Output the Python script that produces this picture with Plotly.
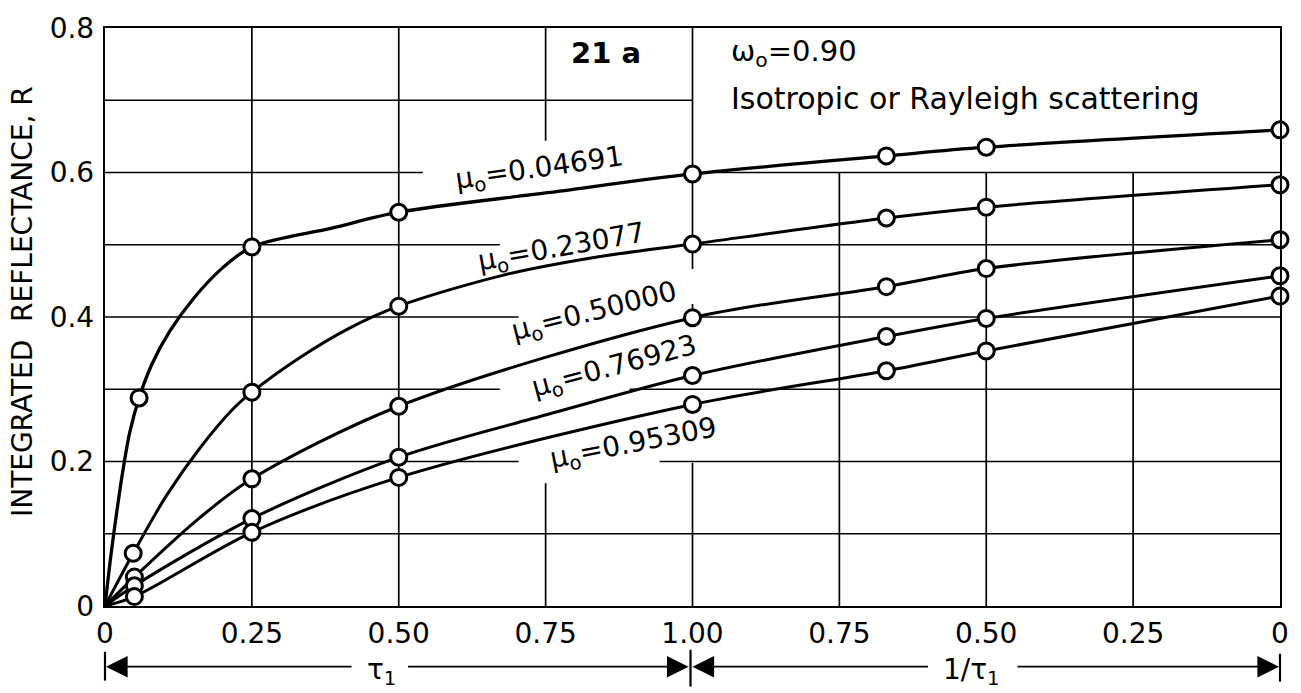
import plotly.graph_objects as go

# ---------------- data ----------------
# Abscissa: left half is tau_1 (0 -> 1), right half is 1/tau_1 (1 -> 0).
mu_labels = ["0.04691", "0.23077", "0.50000", "0.76923", "0.95309"]

# circle markers: left-half tau_1 positions, right-half 1/tau_1 positions
marker_tau = [
    [0.058, 0.25, 0.50, 1.00],
    [0.048, 0.25, 0.50, 1.00],
    [0.050, 0.25, 0.50, 1.00],
    [0.050, 0.25, 0.50, 1.00],
    [0.050, 0.25, 0.50, 1.00],
]
marker_inv_tau = [0.67, 0.50, 0.00]

R_mu_04691 = [0.288, 0.497, 0.545, 0.598, 0.623, 0.635, 0.659]
R_mu_23077 = [0.073, 0.296, 0.415, 0.501, 0.537, 0.552, 0.583]
R_mu_50000 = [0.040, 0.176, 0.2765, 0.399, 0.442, 0.467, 0.507]
R_mu_76923 = [0.028, 0.121, 0.206, 0.319, 0.373, 0.398, 0.457]
R_mu_95309 = [0.013, 0.102, 0.178, 0.279, 0.3256, 0.353, 0.429]
R_markers = [R_mu_04691, R_mu_23077, R_mu_50000, R_mu_76923, R_mu_95309]

# drawn curve on the tau_1 side
curve_tau = [
    [0, 0.01, 0.02, 0.03, 0.042, 0.058, 0.08, 0.11, 0.15, 0.20, 0.25, 0.386, 0.5, 0.753, 1.0],
    [0, 0.048, 0.104, 0.161, 0.217, 0.25, 0.33, 0.4145, 0.5, 0.6785, 0.8376, 1.0],
    [0, 0.05, 0.161, 0.25, 0.5, 1.0],
    [0, 0.05, 0.25, 0.5, 0.753, 1.0],
    [0, 0.05, 0.25, 0.5, 1.0],
]
curve_R = [
    [0, 0.07, 0.13, 0.185, 0.24, 0.288, 0.335, 0.38, 0.425, 0.468, 0.497, 0.523, 0.545, 0.572, 0.598],
    [0, 0.073, 0.152, 0.218, 0.272, 0.296, 0.343, 0.384, 0.415, 0.458, 0.483, 0.501],
    [0, 0.040, 0.122, 0.176, 0.2765, 0.399],
    [0, 0.028, 0.121, 0.206, 0.265, 0.319],
    [0, 0.013, 0.102, 0.178, 0.279],
]

x_tickvals = [0, 0.25, 0.5, 0.75, 1.0, 1.25, 1.5, 1.75, 2.0]
x_ticktext = ["0", "0.25", "0.50", "0.75", "1.00", "0.75", "0.50", "0.25", "0"]
y_tickvals = [0, 0.2, 0.4, 0.6, 0.8]
y_ticktext = ["0", "0.2", "0.4", "0.6", "0.8"]

# label placement (plot coords) and tilt
label_pos = [(0.739, 0.604, -8), (0.777, 0.4955, -10), (0.834, 0.406, -14),
             (0.868, 0.330, -15), (0.900, 0.224, -11)]

FONT = "DejaVu Sans"


def u_left(t):
    return t


def u_right(inv):
    return 2.0 - inv


fig = go.Figure()

for i in range(5):
    xs = [u_left(t) for t in curve_tau[i]] + [u_right(v) for v in marker_inv_tau]
    ys = list(curve_R[i]) + list(R_markers[i][4:])
    fig.add_trace(go.Scatter(
        x=xs, y=ys, mode="lines",
        line=dict(color="black", width=3.3 if i == 0 else 3.0, shape="spline", smoothing=0.9),
        cliponaxis=False, showlegend=False, hoverinfo="skip"))

for i in range(5):
    xs = [u_left(t) for t in marker_tau[i]] + [u_right(v) for v in marker_inv_tau]
    fig.add_trace(go.Scatter(
        x=xs, y=R_markers[i], mode="markers",
        marker=dict(symbol="circle", size=16, color="white",
                    line=dict(color="black", width=3)),
        cliponaxis=False, showlegend=False, hoverinfo="skip"))

# ---------------- grid (partial lines like the original) ----------------
shapes = []
h_segments = [
    (0.1, [(0, 2)]),
    (0.2, [(0, 0.704), (0.944, 2)]),
    (0.3, [(0, 0.672), (0.893, 2)]),
    (0.4, [(0, 0.704), (1.0, 2)]),
    (0.5, [(0, 0.672), (1.0, 2)]),
    (0.6, [(0, 0.541), (1.0, 2)]),
    (0.7, [(0, 1.0)]),
]
v_segments = [
    (0.25, [(0, 0.8)]),
    (0.5, [(0, 0.8)]),
    (0.75, [(0, 0.170), (0.644, 0.8)]),
    (1.0, [(0, 0.198), (0.40, 0.418), (0.4665, 0.8)]),
    (1.25, [(0, 0.6)]),
    (1.5, [(0, 0.6)]),
    (1.75, [(0, 0.6)]),
]
for yv, segs in h_segments:
    for a, b in segs:
        shapes.append(dict(type="line", xref="x", yref="y", x0=a, x1=b, y0=yv, y1=yv,
                           line=dict(color="black", width=1.7), layer="below"))
for xv, segs in v_segments:
    for a, b in segs:
        shapes.append(dict(type="line", xref="x", yref="y", x0=xv, x1=xv, y0=a, y1=b,
                           line=dict(color="black", width=1.7), layer="below"))

# ---------------- bottom arrows (pixel helpers) ----------------
L, R_, T, B = 105, 1287, 25, 606


def px(x):
    return (x - L) / (R_ - L)


def py(y):
    return (B - y) / (B - T)


for xv, y0, y1 in [(105, 652, 681), (694, 650, 687), (1287, 654, 682)]:
    shapes.append(dict(type="line", xref="paper", yref="paper", x0=px(xv), x1=px(xv),
                       y0=py(y0), y1=py(y1), line=dict(color="black", width=2.2)))

annotations = []
AY = 667
for head, tail in [(106, 353), (692, 410), (696, 933), (1286, 1023)]:
    annotations.append(dict(x=px(head), y=py(AY), xref="paper", yref="paper",
                            ax=tail - head, ay=0, axref="pixel", ayref="pixel",
                            text="", showarrow=True, arrowhead=2, arrowsize=2.4,
                            arrowwidth=1.8, arrowcolor="black"))
annotations.append(dict(x=px(383), y=py(672), xref="paper", yref="paper",
                        xanchor="center", yanchor="middle",
                        text="τ<sub>1</sub>", showarrow=False,
                        font=dict(family=FONT, size=28, color="black")))
annotations.append(dict(x=px(977), y=py(672), xref="paper", yref="paper",
                        xanchor="center", yanchor="middle",
                        text="1/τ<sub>1</sub>", showarrow=False,
                        font=dict(family=FONT, size=28, color="black")))

# curve labels
for (lx, ly, ang), lab in zip(label_pos, mu_labels):
    annotations.append(dict(x=lx, y=ly, xref="x", yref="y", text="μ<sub>o</sub>=" + lab,
                            xanchor="center", yanchor="middle",
                            showarrow=False, textangle=ang,
                            font=dict(family=FONT, size=28, color="black")))

annotations.append(dict(x=0.853, y=0.765, xref="x", yref="y", text="<b>21 a</b>",
                        xanchor="center", yanchor="middle",
                        showarrow=False, font=dict(family=FONT, size=29, color="black")))
annotations.append(dict(x=1.173, y=0.765, xref="x", yref="y", text="ω<sub>o</sub>=0.90",
                        xanchor="center", yanchor="middle",
                        showarrow=False, font=dict(family=FONT, size=29, color="black")))
annotations.append(dict(x=1.464, y=0.703, xref="x", yref="y",
                        xanchor="center", yanchor="middle",
                        text="Isotropic or Rayleigh scattering",
                        showarrow=False, font=dict(family=FONT, size=30, color="black")))

# y-axis title
annotations.append(dict(x=px(22), y=py(300), xref="paper", yref="paper",
                        xanchor="center", yanchor="middle",
                        text="INTEGRATED  REFLECTANCE, R", textangle=-90, showarrow=False,
                        font=dict(family=FONT, size=28, color="black")))

fig.update_layout(
    width=1301, height=693,
    margin=dict(l=L, r=1301 - R_, t=T, b=693 - B),
    paper_bgcolor="white", plot_bgcolor="white",
    shapes=shapes, annotations=annotations,
    showlegend=False,
    xaxis=dict(range=[0, 2], tickvals=x_tickvals, ticktext=x_ticktext,
               showgrid=False, zeroline=False, showline=True, mirror=True,
               linecolor="black", linewidth=2.4, ticks="", ticklabelstandoff=1,
               tickfont=dict(family=FONT, size=28, color="black")),
    yaxis=dict(range=[0, 0.8], tickvals=y_tickvals, ticktext=y_ticktext,
               showgrid=False, zeroline=False, showline=True, mirror=True,
               linecolor="black", linewidth=2.4, ticks="", ticklabelstandoff=3,
               tickfont=dict(family=FONT, size=28, color="black")),
)

fig.write_html("out.html")
